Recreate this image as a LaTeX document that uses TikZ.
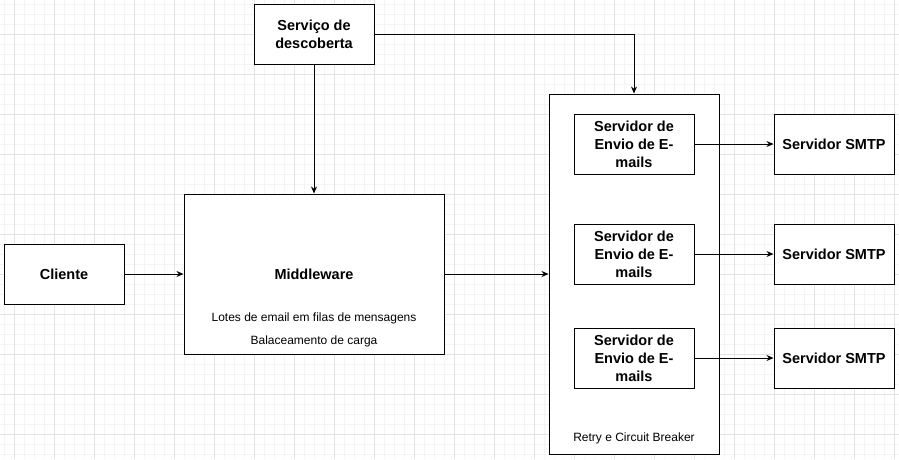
\documentclass[tikz,border=0pt]{standalone}
\usepackage{fontspec}
\setmainfont{Liberation Sans}
\usetikzlibrary{arrows.meta}
\definecolor{gridminor}{HTML}{F4F4F4}
\definecolor{gridmajor}{HTML}{E3E3E3}
\begin{document}
\begin{tikzpicture}[x=1pt,y=-1pt,
  box/.style={draw=black,line width=1pt,fill=white,inner sep=0pt,font=\fontsize{14.5}{18}\selectfont\bfseries,align=center},
  title/.style={inner sep=0pt,font=\fontsize{14.5}{18}\selectfont\bfseries},
  note/.style={font=\fontsize{12}{14}\selectfont,inner sep=0pt},
  conn/.style={draw=black,line width=1pt,-{Stealth[length=7pt,width=6pt]}}]
\useasboundingbox (0,0) rectangle (899,459);
\fill[white] (0,0) rectangle (899,459);
\foreach \x in {4,14,...,894} \draw[gridminor,line width=0.6pt] (\x,0) -- (\x,459);
\foreach \y in {4,14,...,454} \draw[gridminor,line width=0.6pt] (0,\y) -- (899,\y);
\foreach \x in {14,54,...,894} \draw[gridmajor,line width=0.8pt] (\x,0) -- (\x,459);
\foreach \y in {34,74,...,454} \draw[gridmajor,line width=0.8pt] (0,\y) -- (899,\y);

\node[box,minimum width=120pt,minimum height=60pt] (desc) at (314,34) {Serviço de\\descoberta};
\node[box,minimum width=260pt,minimum height=160pt] (mid) at (314,274) {};
\node[title] (midlabel) at (314,274) {Middleware};
\node[note] (lotes) at (314,318) {Lotes de email em filas de mensagens};
\node[note] (bal) at (314,341) {Balaceamento de carga};
\node[box,minimum width=120pt,minimum height=60pt] (cli) at (64,274) {Cliente};
\node[box,minimum width=170pt,minimum height=360pt] (cont) at (634,274) {};
\node[note] (retry) at (634,438) {Retry e Circuit Breaker};
\node[box,minimum width=120pt,minimum height=60pt] (s1) at (634,144) {Servidor de\\Envio de E-\\mails};
\node[box,minimum width=120pt,minimum height=60pt] (s2) at (634,254) {Servidor de\\Envio de E-\\mails};
\node[box,minimum width=120pt,minimum height=60pt] (s3) at (634,358) {Servidor de\\Envio de E-\\mails};
\node[box,minimum width=120pt,minimum height=60pt] (m1) at (834,144) {Servidor SMTP};
\node[box,minimum width=120pt,minimum height=60pt] (m2) at (834,254) {Servidor SMTP};
\node[box,minimum width=120pt,minimum height=60pt] (m3) at (834,358) {Servidor SMTP};

\draw[conn] (desc.south) -- (mid.north);
\draw[conn] (desc.east) -| (cont.north);
\draw[conn] (cli.east) -- (mid.west);
\draw[conn] (mid.east) -- (cont.west);
\draw[conn] (s1.east) -- (m1.west);
\draw[conn] (s2.east) -- (m2.west);
\draw[conn] (s3.east) -- (m3.west);
\end{tikzpicture}
\end{document}
